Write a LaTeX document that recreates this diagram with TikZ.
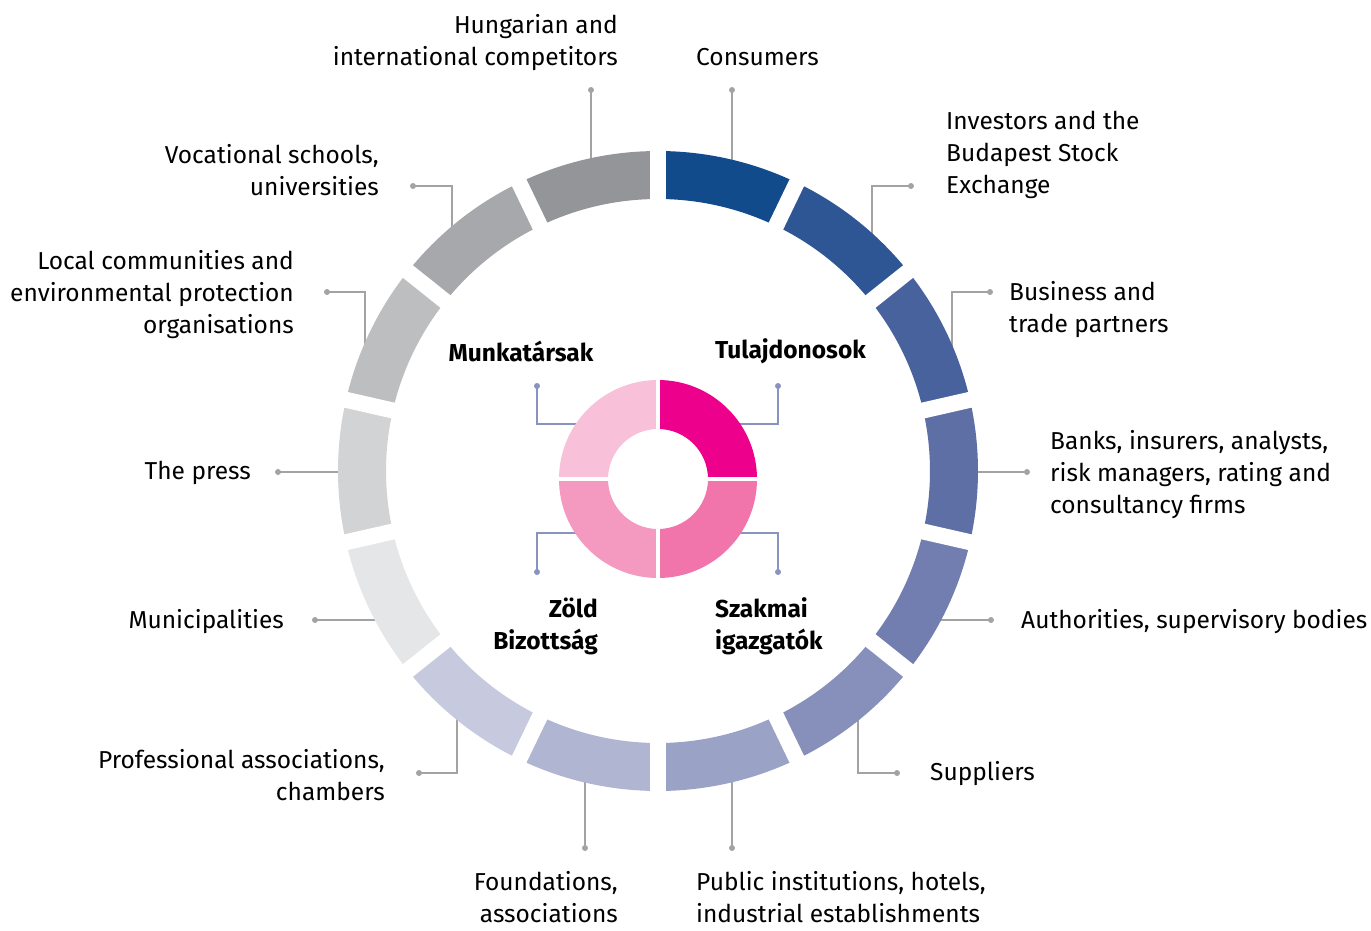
\documentclass[tikz,border=0pt]{standalone}
\usepackage{fontspec}
\setmainfont{Fira Sans}
\definecolor{s1}{HTML}{124B8B}
\definecolor{s2}{HTML}{2F5694}
\definecolor{s3}{HTML}{47629D}
\definecolor{s4}{HTML}{5E6FA5}
\definecolor{s5}{HTML}{717EAF}
\definecolor{s6}{HTML}{8690BA}
\definecolor{s7}{HTML}{9AA2C5}
\definecolor{s8}{HTML}{B0B5D1}
\definecolor{s9}{HTML}{C7CADF}
\definecolor{s10}{HTML}{E5E6E8}
\definecolor{s11}{HTML}{D2D3D5}
\definecolor{s12}{HTML}{BDBEC0}
\definecolor{s13}{HTML}{A7A8AB}
\definecolor{s14}{HTML}{939598}
\definecolor{pTR}{HTML}{EC008C}
\definecolor{pTL}{HTML}{F8C0D9}
\definecolor{pBL}{HTML}{F49AC0}
\definecolor{pBR}{HTML}{F174AA}
\definecolor{conngray}{HTML}{A3A3A3}
\definecolor{connblue}{HTML}{8A92C0}
\tikzset{
  conn/.style={draw=conngray, line width=1.5pt},
  iconn/.style={draw=connblue, line width=1.5pt},
  gdot/.style={fill=conngray},
  bdot/.style={fill=connblue},
  lbl/.style={inner sep=0pt, font=\fontsize{24.5}{32}\selectfont, text=black},
  blbl/.style={inner sep=0pt, font=\fontsize{24.5}{32}\selectfont\bfseries, text=black},
}
\begin{document}
\begin{tikzpicture}[x=1pt,y=-1pt]
\useasboundingbox (0,0) rectangle (1371,930);
% connector end points
\coordinate (dCons) at (732,90);   \coordinate (eCons) at (732,175);
\coordinate (dHun) at (591,90);    \coordinate (eHun) at (591,175);
\coordinate (dInv) at (911,186);   \coordinate (eInv) at (872,245);
\coordinate (dBus) at (990,292);   \coordinate (eBus) at (952,355);
\coordinate (dBank) at (1027,472); \coordinate (eBank) at (965,472);
\coordinate (dAuth) at (991,620);  \coordinate (eAuth) at (930,620);
\coordinate (dSup) at (897,773);   \coordinate (eSup) at (858,710);
\coordinate (dPub) at (732,848);   \coordinate (ePub) at (732,770);
\coordinate (dFou) at (585,848);   \coordinate (eFou) at (585,770);
\coordinate (dProf) at (419,773);  \coordinate (eProf) at (457,710);
\coordinate (dMun) at (315,620);   \coordinate (eMun) at (386,620);
\coordinate (dPre) at (278,472);   \coordinate (ePre) at (350,472);
\coordinate (dLoc) at (327,292);   \coordinate (eLoc) at (365,352);
\coordinate (dVoc) at (413,186);   \coordinate (eVoc) at (452,236);
\coordinate (dTL) at (537,386); \coordinate (eTL) at (592,424);
\coordinate (dTR) at (778,386); \coordinate (eTR) at (724,424);
\coordinate (dBL) at (537,572); \coordinate (eBL) at (592,533);
\coordinate (dBR) at (778,572); \coordinate (eBR) at (724,533);
% outer connectors
\draw[conn] (eCons) -- (dCons);
\draw[conn] (eHun) -- (dHun);
\draw[conn] (eInv) |- (dInv);
\draw[conn] (eBus) |- (dBus);
\draw[conn] (eBank) -- (dBank);
\draw[conn] (eAuth) -- (dAuth);
\draw[conn] (eSup) |- (dSup);
\draw[conn] (ePub) -- (dPub);
\draw[conn] (eFou) -- (dFou);
\draw[conn] (eProf) |- (dProf);
\draw[conn] (eMun) -- (dMun);
\draw[conn] (ePre) -- (dPre);
\draw[conn] (eLoc) |- (dLoc);
\draw[conn] (eVoc) |- (dVoc);
\foreach \p in {dCons,dHun,dInv,dBus,dBank,dAuth,dSup,dPub,dFou,dProf,dMun,dPre,dLoc,dVoc}
  \fill[gdot] (\p) circle[radius=3pt];
% inner connectors
\draw[iconn] (dTL) |- (eTL);
\draw[iconn] (dTR) |- (eTR);
\draw[iconn] (dBL) |- (eBL);
\draw[iconn] (dBR) |- (eBR);
\foreach \p in {dTL,dTR,dBL,dBR}
  \fill[bdot] (\p) circle[radius=3pt];
% outer ring
\begin{scope}[shift={(658,471)}]
  \pgfmathsetmacro{\a}{360/14}
  \foreach \c [count=\k from 0] in {s1,s2,s3,s4,s5,s6,s7,s8,s9,s10,s11,s12,s13,s14} {
    \pgfmathsetmacro{\s}{90-\k*\a}
    \pgfmathsetmacro{\e}{90-(\k+1)*\a}
    \fill[\c] (\s:320pt) arc[start angle=\s, end angle=\e, radius=320pt]
      -- (\e:272pt) arc[start angle=\e, end angle=\s, radius=272pt] -- cycle;
  }
  \foreach \k in {0,...,13} {
    \pgfmathsetmacro{\s}{90-\k*\a}
    \draw[white, line width=16pt] (\s:262pt) -- (\s:330pt);
  }
\end{scope}
% inner donut
\begin{scope}[shift={(658,479)}]
  \foreach \c/\s in {pTR/0, pTL/90, pBL/180, pBR/270} {
    \fill[\c] (\s:99pt) arc[start angle=\s, end angle=\s+90, radius=99pt]
      -- (\s+90:50pt) arc[start angle=\s+90, end angle=\s, radius=50pt] -- cycle;
  }
  \draw[white, line width=4.5pt] (-105pt,0) -- (105pt,0);
  \draw[white, line width=4.5pt] (0,-105pt) -- (0,105pt);
\end{scope}
% labels
\node[lbl, anchor=west] (tCons) at (696,57) {Consumers};
\node[lbl, anchor=east, align=right] (tHun) at (618,43) {Hungarian and\\international competitors};
\node[lbl, anchor=west, align=left] (tInv) at (946,155) {Investors and the\\Budapest Stock\\Exchange};
\node[lbl, anchor=west, align=left] (tBus) at (1009,310) {Business and\\trade partners};
\node[lbl, anchor=west, align=left] (tBank) at (1050,475) {Banks, insurers, analysts,\\risk managers, rating and\\consultancy firms};
\node[lbl, anchor=west] (tAuth) at (1021,622) {Authorities, supervisory bodies};
\node[lbl, anchor=west] (tSup) at (930,774) {Suppliers};
\node[lbl, anchor=west, align=left] (tPub) at (696,897) {Public institutions, hotels,\\industrial establishments};
\node[lbl, anchor=east, align=right] (tFou) at (618,897) {Foundations,\\associations};
\node[lbl, anchor=east, align=right] (tProf) at (385,775) {Professional associations,\\chambers};
\node[lbl, anchor=east] (tMun) at (284,622) {Municipalities};
\node[lbl, anchor=east] (tPre) at (251,473) {The press};
\node[lbl, anchor=east, align=right] (tLoc) at (294,295) {Local communities and\\environmental protection\\organisations};
\node[lbl, anchor=east, align=right] (tVoc) at (379,170) {Vocational schools,\\universities};
\node[blbl] (tMunk) at (521,351) {Munkatársak};
\node[blbl, anchor=west] (tTul) at (715,351) {Tulajdonosok};
\node[blbl, anchor=east, align=right] (tZold) at (598,626) {Zöld\\Bizottság};
\node[blbl, anchor=west, align=left] (tSzak) at (715,626) {Szakmai\\igazgatók};
\end{tikzpicture}
\end{document}
